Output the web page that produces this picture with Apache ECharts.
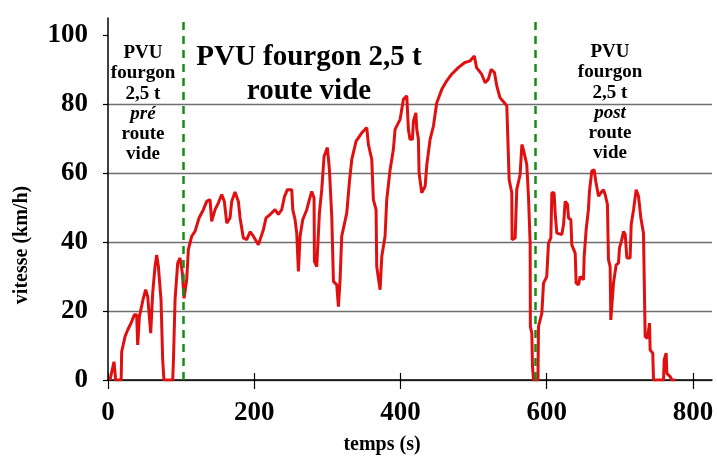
<!DOCTYPE html>
<html>
<head>
<meta charset="utf-8">
<script src="https://cdn.jsdelivr.net/npm/echarts@6/dist/echarts.min.js"></script>
<style>
html,body{margin:0;padding:0;background:#fff;}
#c{width:717px;height:460px;}
</style>
</head>
<body>
<div id="c"></div>
<script>
// Time (s) of each trace point
var time = [2.7,8.2,10.5,18.0,18.7,23.3,26.9,31.5,36,39.2,40.6,42.9,48.3,51.5,54.3,58.4,61.1,64.3,66.6,68.9,72.5,74.8,76.5,88.5,89.5,91.7,95.3,98.5,101.7,104,107.6,109.9,114.5,119,124.5,130.4,135,139.5,141.8,146.4,151,155.5,159.1,162.4,166.9,169.2,173.7,178.3,180.6,185.1,189.7,194.3,198.8,205.6,212.5,216.1,221.6,228.5,233,237.6,241.2,245.3,251.3,252.7,255.8,258.1,260.4,262.7,266.3,271.8,275.4,278.6,281.8,282.3,285.5,289.1,292.3,295.5,300,302.8,306,308.3,312.8,315.1,317.4,319.6,326.5,330.2,333.4,339.3,347.1,353.9,356.1,360.7,362.9,366.6,367.5,372.1,374.4,378.9,381.2,385.8,390.3,392.6,399.5,404,408.6,410.8,413,416.3,417.7,421,422.3,424.5,425.4,429,433.7,436,440.5,445,449.6,456.5,463,470,479,488,495,501,504,511,515.7,520,524,528.5,531.7,536,542,545.4,548.6,552.2,552.6,556.8,559,563.6,566,568,572.7,575,577.3,577.6,579.6,580.5,582,588,588.7,593.3,595.6,600,602.4,605.6,607,610,611.5,613.8,620.6,623,625.2,628.4,629.8,633,634.3,638.9,640.2,643.4,645.7,650.3,651.2,653.9,657,658.4,661.6,664.8,667.1,670.8,674,677.6,679.9,683,684.4,686.7,687.6,690.3,691.3,694.9,698.1,699.5,702.7,705,707.3,709.6,714,715.5,718.7,722.3,725.5,728.7,732.3,734.6,737.8,740.6,741.4,745,746,759.7,760.6,763.3,764.3,768.8,771,775.7];
// Speed (km/h) at each trace point
var speed = [0,5.3,0,0,8.2,12.6,14.5,16.5,18.9,18.9,10.2,18.4,23.7,26.2,24.2,13.6,25.2,32.9,36.3,32.9,23.3,5.8,0,0,5.8,23.3,33.9,35.4,31,23.7,29.1,37.8,41.7,43.1,47,49.4,51.8,52.3,46,49.4,51.4,53.8,51.8,45.5,47,51.8,54.5,51.8,47,41.2,40.7,43,41.7,39.2,43.6,47,48,49.4,48,49.4,53.1,55.2,55.2,49.4,46.5,42.6,31.5,41.7,46.5,49.4,52.3,54.7,52.8,34.4,32.9,48.4,55.2,64.9,67.4,61,47.5,28.6,27.6,21.3,29.1,41.7,48.4,57.6,64,69.3,71.7,73.2,68.3,64,52.3,49.4,32.9,26.2,35.8,41.7,52.3,61,66.9,72.7,75.6,81.4,82.4,72.7,69.8,69.8,75.1,77.5,72.7,69.8,60.1,54.3,56.2,62.5,69.8,73.6,80.4,84.3,86.7,88.7,90.6,92.1,92.5,94,90.6,88.7,86.2,87.2,90.1,89.2,85.3,81.9,80.4,79.5,58.1,54.3,40.7,41.2,55.2,59.6,68.3,66.9,62.5,53.3,39.7,15.5,13.6,3.9,0,0,15.5,19.4,28.1,30,39.7,41.2,54.3,54.3,48.5,42.6,42.2,45.1,51.8,50.9,47,46.5,39.2,36.8,28.1,27.6,30,29.1,35.8,43.6,49.4,54.7,60.6,61,57.6,53.3,54.3,55.2,53.8,50.9,34.9,32.9,17.4,17.4,28.1,33.4,33.9,38.3,40.7,43.1,42.2,35.4,35.4,45.1,49.4,55.2,53.3,47,42.6,12.6,12.1,16.5,8.7,7.8,0,0,5.8,7.8,1.9,1,0,0];
// Phase boundaries (s)
var phaseLines = [103, 584];
// Tick labels
var xTicks = [0, 200, 400, 600, 800];
var yTicks = [0, 20, 40, 60, 80, 100];
// Annotation texts
var titleLines = ['PVU fourgon 2,5 t', 'route vide'];
var leftLines = ['PVU', 'fourgon', '2,5 t', 'pré', 'route', 'vide'];
var rightLines = ['PVU', 'fourgon', '2,5 t', 'post', 'route', 'vide'];

var FONT = '"Liberation Serif", "Times New Roman", serif';
var pts = time.map(function (t, i) { return [t, speed[i]]; });

var graphics = [];
titleLines.forEach(function (s, i) {
  graphics.push({type: 'text', x: 309, y: [58, 92][i],
    style: {text: s, fontFamily: FONT, fontWeight: 'bold', fontSize: 29, fill: '#000', textAlign: 'center', textVerticalAlign: 'middle'}});
});
var ys = [53, 73, 94, 114, 134, 154];
leftLines.forEach(function (s, i) {
  graphics.push({type: 'text', x: 143, y: ys[i],
    style: {text: s, fontFamily: FONT, fontWeight: 'bold', fontStyle: i === 3 ? 'italic' : 'normal', fontSize: 19, fill: '#000', textAlign: 'center', textVerticalAlign: 'middle'}});
});
rightLines.forEach(function (s, i) {
  graphics.push({type: 'text', x: 610, y: ys[i] - 1,
    style: {text: s, fontFamily: FONT, fontWeight: 'bold', fontStyle: i === 3 ? 'italic' : 'normal', fontSize: 19, fill: '#000', textAlign: 'center', textVerticalAlign: 'middle'}});
});
graphics.push({type: 'text', x: 382, y: 445,
  style: {text: 'temps (s)', fontFamily: FONT, fontWeight: 'bold', fontSize: 20, fill: '#000', textAlign: 'center', textVerticalAlign: 'middle'}});
graphics.push({type: 'text', x: 22, y: 245, rotation: Math.PI / 2,
  style: {text: 'vitesse (km/h)', fontFamily: FONT, fontWeight: 'bold', fontSize: 20, fill: '#000', textAlign: 'center', textVerticalAlign: 'middle'}});

var chart = echarts.init(document.getElementById('c'), null, {renderer: 'canvas'});
chart.setOption({
  animation: false,
  backgroundColor: '#fff',
  grid: {left: 108, right: 5, top: 18, bottom: 80, containLabel: false},
  xAxis: [{
    type: 'value', min: 0, max: 826, interval: 200, position: 'bottom',
    axisLine: {show: true, onZero: false, lineStyle: {color: '#000', width: 1.5}},
    axisTick: {show: true, length: 9, lineStyle: {color: '#000', width: 1.2}, customValues: xTicks},
    axisLabel: {show: true, margin: 20, customValues: xTicks, color: '#000', fontFamily: FONT, fontWeight: 'bold', fontSize: 27},
    splitLine: {show: false}
  }, {
    type: 'value', min: 0, max: 826, interval: 200, position: 'bottom',
    axisLine: {show: false},
    axisTick: {show: true, inside: true, length: 7, lineStyle: {color: '#000', width: 1.2}, customValues: xTicks},
    axisLabel: {show: false},
    splitLine: {show: false}
  }],
  yAxis: {
    type: 'value', min: 0, max: 105, interval: 20,
    axisLine: {show: true, onZero: false, lineStyle: {color: '#000', width: 1.5}},
    axisTick: {show: true, length: 5, lineStyle: {color: '#000', width: 1.2}, customValues: yTicks},
    axisLabel: {show: true, margin: 20, customValues: yTicks, color: '#000', fontFamily: FONT, fontWeight: 'bold', fontSize: 27},
    splitLine: {show: true, showMaxLine: false, showMinLine: true, lineStyle: {color: '#6e6e6e', width: 1.3}}
  },
  graphic: graphics,
  series: [{
    type: 'line', xAxisIndex: 0, data: pts, symbol: 'none', silent: true,
    lineStyle: {color: '#e01010', width: 3},
    z: 3,
    markLine: {
      silent: true, symbol: ['none', 'none'], label: {show: false},
      lineStyle: {color: '#1a8c1a', width: 2.5, type: [8, 6]},
      data: phaseLines.map(function (v) { return {xAxis: v}; })
    }
  }]
});
</script>
</body>
</html>
